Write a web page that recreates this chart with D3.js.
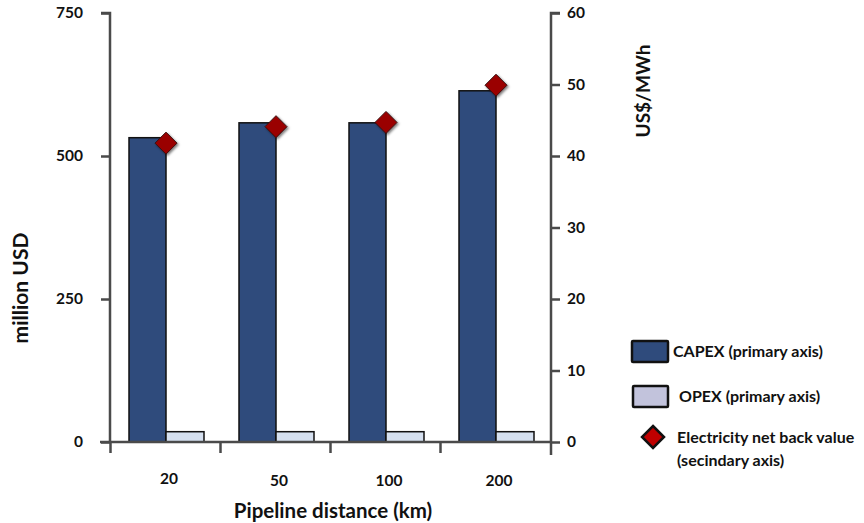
<!DOCTYPE html>
<html><head><meta charset="utf-8">
<script src="https://cdn.jsdelivr.net/npm/d3@7"></script>
<style>body{margin:0;background:#fff}svg{display:block;font-family:Lato,'Open Sans',sans-serif;font-weight:bold}</style>
</head><body><svg id="c" width="864" height="523"></svg>
<script>
const categories = ["20","50","100","200"];
const capex = [532, 558, 558, 614];
const opex = [18, 18, 18, 18];
const netback = [41.8, 44.1, 44.7, 49.9];
const leftTicks = [0, 250, 500, 750];
const rightTicks = [0, 10, 20, 30, 40, 50, 60];

const svg = d3.select("#c");
const x0 = 110, x1 = 550, yTop = 13, yBot = 442;
const x = d3.scaleBand().domain(categories).range([x0, x1]);
const yL = d3.scaleLinear().domain([0, 750]).range([yBot, yTop]);
const yR = d3.scaleLinear().domain([0, 60]).range([yBot, yTop]);
const axisCol = "#4a4a4a";

const defs = svg.append("defs");
const f = defs.append("filter").attr("id","sh").attr("x","-50%").attr("y","-50%").attr("width","200%").attr("height","200%");
f.append("feDropShadow").attr("dx",1.5).attr("dy",1.5).attr("stdDeviation",1).attr("flood-color","#000").attr("flood-opacity",0.5);

// bars
const bw = 37;
svg.selectAll("rect.capex").data(categories).join("rect")
  .attr("x", d => x(d) + 19).attr("y", (d,i) => yL(capex[i]))
  .attr("width", bw).attr("height", (d,i) => yBot - yL(capex[i]))
  .attr("fill", "#2f4b7c").attr("stroke", "#111").attr("stroke-width", 1.5);
svg.selectAll("rect.opex").data(categories).join("rect")
  .attr("x", d => x(d) + 19 + bw).attr("y", (d,i) => yL(opex[i]))
  .attr("width", 38).attr("height", (d,i) => yBot - yL(opex[i]))
  .attr("fill", "#d5e0f0").attr("stroke", "#111").attr("stroke-width", 1.5);

// left axis
const gL = svg.append("g").attr("transform", `translate(${x0},0)`)
  .call(d3.axisLeft(yL).tickValues(leftTicks).tickSize(9).tickPadding(18));
// right axis
const gR = svg.append("g").attr("transform", `translate(${x1+1},0)`)
  .call(d3.axisRight(yR).tickValues(rightTicks).tickSize(9).tickPadding(7));
// bottom axis
const xTickScale = d3.scaleLinear().domain([0,4]).range([x0, x1]);
const gB = svg.append("g").attr("transform", `translate(0,${yBot})`)
  .call(d3.axisBottom(xTickScale).tickValues([0,1,2,3]).tickSize(11).tickFormat(""));
[gL, gR, gB].forEach(g => {
  g.select(".domain").attr("stroke", axisCol).attr("stroke-width", 2.5);
  g.selectAll(".tick line").attr("stroke", axisCol).attr("stroke-width", 2.5);
  g.selectAll("text").attr("fill", "#111").attr("font-size", 15.5).attr("font-family", "Lato,sans-serif").attr("font-weight","bold");
});
gL.select(".domain").attr("d", `M-9,${yTop}H0V${yBot}`);
gR.select(".domain").attr("d", `M9,${yTop}H0V${yBot+13}`);
gB.select(".domain").attr("d", `M${x0-10},0H${x1}`);

// category labels
svg.selectAll("text.cat").data(categories).join("text")
  .attr("x", d => x(d) + x.bandwidth()/2 + 4).attr("y", (d,i) => i===0 ? 484 : 486)
  .attr("text-anchor", "middle").attr("font-size", 15.5).attr("fill", "#111").text(d => d);

// diamonds
const dsz = 11;
svg.selectAll("path.nb").data(categories).join("path")
  .attr("transform", (d,i) => `translate(${x(d) + x.bandwidth()/2 + 1},${yR(netback[i])})`)
  .attr("d", `M0,${-dsz}L${dsz},0L0,${dsz}L${-dsz},0Z`)
  .attr("fill", "#9a0000").attr("stroke", "#3a1010").attr("stroke-width", 1).attr("filter", "url(#sh)");

// axis titles
svg.append("text").attr("transform", "translate(28,288) rotate(-90)").attr("text-anchor","middle")
  .attr("font-size", 21).attr("fill","#111").text("million USD");
svg.append("text").attr("transform", "translate(650,91) rotate(-90)").attr("text-anchor","middle")
  .attr("font-size", 19).attr("fill","#111").text("US$/MWh");
svg.append("text").attr("x", 333).attr("y", 518).attr("text-anchor","middle")
  .attr("font-size", 20.5).attr("fill","#111").text("Pipeline distance (km)");

// legend
const lg = svg.append("g").attr("font-size", 16).attr("fill", "#111");
lg.append("rect").attr("x", 632).attr("y", 341).attr("width", 36).attr("height", 21)
  .attr("fill", "#2f4b7c").attr("stroke", "#111").attr("stroke-width", 2.5).attr("rx", 1);
lg.append("text").attr("x", 673).attr("y", 357).text("CAPEX (primary axis)");
lg.append("rect").attr("x", 633).attr("y", 386).attr("width", 35).attr("height", 21)
  .attr("fill", "#c2c3dc").attr("stroke", "#111").attr("stroke-width", 2.5).attr("rx", 1);
lg.append("text").attr("x", 679).attr("y", 402).text("OPEX (primary axis)");
lg.append("path").attr("transform", "translate(653,437)").attr("d", "M0,-11L11,0L0,11L-11,0Z")
  .attr("fill", "#c00000").attr("stroke", "#111").attr("stroke-width", 2.5);
lg.append("text").attr("x", 677).attr("y", 443).text("Electricity net back value");
lg.append("text").attr("x", 677).attr("y", 466).text("(secindary axis)");
</script></body></html>
